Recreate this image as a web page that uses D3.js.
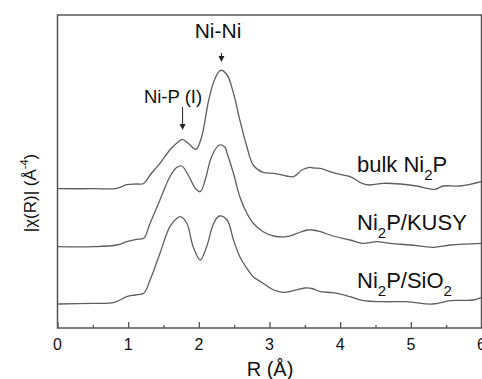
<!DOCTYPE html>
<html>
<head>
<meta charset="utf-8">
<script src="https://cdn.jsdelivr.net/npm/d3@7"></script>
<style>
body { margin: 0; background: #fff; }
text { font-family: Arial, "Liberation Sans", sans-serif; fill: #111; }
</style>
</head>
<body>
<div id="chart"></div>
<script>
var width = 482, height = 379;
var margin = {top: 15, left: 57.5, right: 0.5, bottom: 51};

// R in angstrom, |chi(R)| in arbitrary units (before vertical offset)
var R_bulk = [0, 0.5, 0.84, 0.98, 1.12, 1.22, 1.31, 1.45, 1.59, 1.71, 1.77, 1.85, 1.96, 2.04, 2.14, 2.23, 2.31, 2.40, 2.49, 2.58, 2.68, 2.77, 2.91, 3.06, 3.24, 3.34, 3.46, 3.57, 3.62, 3.72, 3.90, 4.14, 4.31, 4.42, 4.61, 4.85, 5.08, 5.34, 5.46, 5.70, 6.0];
var chi_bulk = [0.193, 0.193, 0.197, 0.233, 0.24, 0.245, 0.33, 0.447, 0.58, 0.663, 0.687, 0.647, 0.587, 0.713, 1.08, 1.297, 1.377, 1.33, 1.147, 0.88, 0.613, 0.43, 0.357, 0.347, 0.32, 0.313, 0.38, 0.407, 0.40, 0.397, 0.353, 0.313, 0.247, 0.23, 0.247, 0.24, 0.22, 0.187, 0.22, 0.22, 0.263];

var R_kusy = [0, 0.5, 0.84, 0.98, 1.12, 1.22, 1.31, 1.45, 1.59, 1.69, 1.76, 1.85, 1.95, 2.02, 2.09, 2.18, 2.29, 2.37, 2.40, 2.49, 2.58, 2.68, 2.77, 2.91, 3.06, 3.24, 3.39, 3.53, 3.60, 3.72, 3.90, 4.14, 4.31, 4.52, 4.71, 4.99, 5.32, 5.56, 6.0];
var chi_kusy = [0.213, 0.213, 0.23, 0.263, 0.287, 0.297, 0.447, 0.68, 0.913, 1.007, 1.02, 0.93, 0.797, 0.763, 0.88, 1.113, 1.23, 1.207, 1.147, 0.947, 0.713, 0.547, 0.447, 0.363, 0.32, 0.313, 0.347, 0.38, 0.38, 0.363, 0.32, 0.28, 0.247, 0.263, 0.247, 0.23, 0.207, 0.23, 0.247];

var R_sio2 = [0, 0.5, 0.79, 0.98, 1.10, 1.22, 1.31, 1.45, 1.59, 1.69, 1.74, 1.83, 1.92, 2.02, 2.11, 2.21, 2.29, 2.40, 2.49, 2.58, 2.68, 2.77, 2.91, 3.06, 3.20, 3.34, 3.50, 3.60, 3.72, 3.90, 4.14, 4.33, 4.61, 4.94, 5.30, 5.56, 5.88, 6.0];
var chi_sio2 = [0.24, 0.247, 0.253, 0.313, 0.33, 0.347, 0.48, 0.747, 1.013, 1.097, 1.113, 1.047, 0.813, 0.68, 0.813, 1.047, 1.12, 1.08, 0.88, 0.713, 0.597, 0.513, 0.447, 0.38, 0.357, 0.373, 0.40, 0.395, 0.363, 0.353, 0.313, 0.273, 0.263, 0.263, 0.24, 0.273, 0.28, 0.307];

var offsets = [1.2, 0.6, 0.0];
var xTicks = [0, 1, 2, 3, 4, 5, 6];
var xMinorTicks = [0.5, 1.5, 2.5, 3.5, 4.5, 5.5];

var series = [
    {R: R_bulk, chi: chi_bulk, off: offsets[0], label: ['bulk Ni', '2', 'P', ''], ly: 1.56},
    {R: R_kusy, chi: chi_kusy, off: offsets[1], label: ['Ni', '2', 'P/KUSY', ''], ly: 0.98},
    {R: R_sio2, chi: chi_sio2, off: offsets[2], label: ['Ni', '2', 'P/SiO', '2'], ly: 0.397}
];

var svg = d3.select('#chart')
    .append('svg')
    .attr('width', width)
    .attr('height', height);

var x = d3.scaleLinear().domain([0, 6]).range([margin.left, width - margin.right]);
var y = d3.scaleLinear().domain([0, 3.13]).range([height - margin.bottom, margin.top]);

var line = d3.line()
    .x(function(d){ return x(d[0]) })
    .y(function(d){ return y(d[1]) })
    .curve(d3.curveCatmullRom.alpha(0.5));

series.forEach(function(s){
    var pts = s.R.map(function(r, i){ return [r, s.chi[i] + s.off] });
    svg.append('path')
        .attr('d', line(pts))
        .attr('fill', 'none')
        .attr('stroke', '#5e5e5e')
        .attr('stroke-width', 1.3);

    var t = svg.append('text')
        .attr('x', 357)
        .attr('y', y(s.ly))
        .attr('font-size', 22);
    t.append('tspan').text(s.label[0]);
    t.append('tspan').text(s.label[1]).attr('font-size', 15).attr('dy', 8);
    t.append('tspan').text(s.label[2]).attr('dy', -8);
    if(s.label[3]){
        t.append('tspan').text(s.label[3]).attr('font-size', 15).attr('dy', 8);
    }
});

// frame
svg.append('rect')
    .attr('x', margin.left)
    .attr('y', margin.top)
    .attr('width', x(6) - margin.left)
    .attr('height', y(0) - margin.top)
    .attr('fill', 'none')
    .attr('stroke', '#555')
    .attr('stroke-width', 1.5);

// x axis: ticks pointing inward
var xAxis = svg.append('g')
    .attr('transform', 'translate(0,' + y(0) + ')')
    .call(d3.axisTop(x).tickValues(xTicks).tickSize(6).tickFormat(''));
xAxis.select('.domain').remove();
xAxis.selectAll('line').attr('stroke', '#555').attr('stroke-width', 1.3);

var xMinor = svg.append('g')
    .attr('transform', 'translate(0,' + y(0) + ')')
    .call(d3.axisTop(x).tickValues(xMinorTicks).tickSize(3).tickFormat(''));
xMinor.select('.domain').remove();
xMinor.selectAll('line').attr('stroke', '#555').attr('stroke-width', 1.3);

svg.selectAll('.xlab')
    .data(xTicks)
    .enter().append('text')
    .attr('class', 'xlab')
    .attr('x', function(d){ return x(d) })
    .attr('y', 350)
    .attr('text-anchor', 'middle')
    .attr('font-size', 16)
    .text(function(d){ return d });

svg.append('text')
    .attr('x', 270)
    .attr('y', 376)
    .attr('text-anchor', 'middle')
    .attr('font-size', 20)
    .text('R (Å)');

var yl = svg.append('text')
    .attr('transform', 'translate(36,193) rotate(-90)')
    .attr('text-anchor', 'middle')
    .attr('font-size', 17);
yl.append('tspan').text('|χ(R)|  (Å');
yl.append('tspan').text('-4').attr('font-size', 11).attr('dy', -8);
yl.append('tspan').text(')').attr('dy', 8);

// annotations
function arrow(xv, y1, y2){
    svg.append('line')
        .attr('x1', x(xv)).attr('x2', x(xv))
        .attr('y1', y1).attr('y2', y2 - 4)
        .attr('stroke', '#222').attr('stroke-width', 1);
    svg.append('path')
        .attr('d', 'M' + (x(xv) - 3) + ',' + (y2 - 6) + 'L' + x(xv) + ',' + y2 + 'L' + (x(xv) + 3) + ',' + (y2 - 6) + 'Z')
        .attr('fill', '#222');
}

svg.append('text')
    .attr('x', 218).attr('y', 38)
    .attr('text-anchor', 'middle')
    .attr('font-size', 21)
    .text('Ni-Ni');
arrow(2.32, 53, 62);

svg.append('text')
    .attr('x', 173).attr('y', 103)
    .attr('text-anchor', 'middle')
    .attr('font-size', 18.5)
    .text('Ni-P (I)');
arrow(1.77, 107, 130);
</script>
</body>
</html>
